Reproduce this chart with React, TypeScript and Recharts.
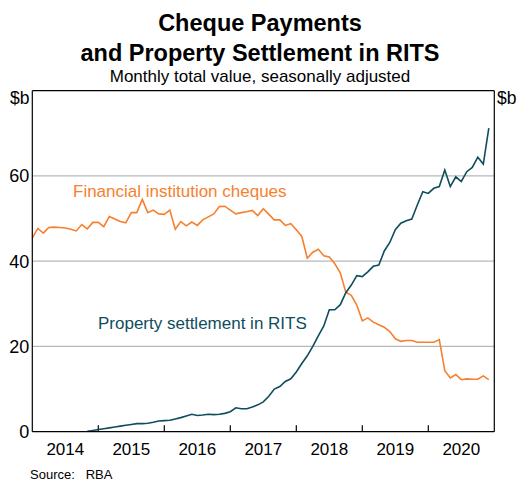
import React from "react";
import {
  LineChart,
  Line,
  XAxis,
  YAxis,
  ReferenceLine,
} from "recharts";

// monthly, Jan 2014 .. Dec 2020 ($b)
const chequeValues = [
  45.4, 47.7, 46.6, 47.9, 48.0, 47.9, 47.8, 47.5, 47.1, 48.6, 47.6, 49.1,
  49.1, 48.1, 50.5, 49.9, 49.3, 49.0, 51.4, 51.4, 54.5, 51.4, 52.0, 51.1,
  51.0, 52.0, 47.5, 49.3, 48.3, 49.2, 48.4, 49.7, 50.4, 51.1, 52.8, 52.9,
  52.0, 51.1, 51.4, 51.6, 51.9, 50.7, 52.3, 51.0, 49.7, 49.7, 48.4, 48.8,
  47.4, 45.8, 40.7, 42.1, 42.8, 41.3, 41.0, 39.4, 37.3, 32.7, 32.0, 29.7,
  26.0, 26.7, 25.7, 25.1, 24.5, 23.5, 21.8, 21.2, 21.4, 21.4, 21.0, 21.0,
  21.0, 21.0, 21.6, 14.3, 12.6, 13.4, 12.2, 12.4, 12.3, 12.3, 13.1, 12.2,
];

const propertyValues: (number | null)[] = [
  null, null, null, null, null, null, null, null, null, null, 0.1, 0.3,
  0.5, 0.7, 0.9, 1.1, 1.3, 1.5, 1.7, 1.9, 1.9, 2.0, 2.2, 2.5,
  2.6, 2.7, 3.0, 3.3, 3.7, 4.1, 3.8, 3.9, 4.1, 4.0, 4.1, 4.3,
  4.7, 5.6, 5.4, 5.4, 5.8, 6.3, 7.0, 8.3, 10.0, 10.6, 11.8, 12.4,
  14.0, 16.0, 17.8, 20.0, 22.5, 24.8, 28.6, 28.6, 29.8, 32.6, 34.4, 36.6,
  36.4, 37.5, 38.8, 39.1, 42.4, 44.4, 47.4, 48.9, 49.5, 49.9, 53.2, 56.3,
  55.9, 57.1, 57.5, 61.4, 57.5, 59.8, 58.7, 61.0, 62.0, 64.4, 62.8, 71.2,
];

const years = ["2014", "2015", "2016", "2017", "2018", "2019", "2020"];
const yTicks = [0, 20, 40, 60, 80];
const gridValues = [20, 40, 60];

const ORANGE = "#f7802e";
const TEAL = "#0f4d5c";
const FONT = "Arial, 'Liberation Sans', sans-serif";

const data = chequeValues.map((v, i) => ({
  m: i,
  cheques: v,
  property: propertyValues[i],
}));

const yearMids = years.map((_, k) => k * 12 + 6);
const yearBounds = years.slice(1).map((_, k) => (k + 1) * 12);

const yTickFmt = (v: number) => (v === 80 ? "" : String(v));
const xTickFmt = (v: number) => years[Math.floor(v / 12)] ?? "";

export default function App() {
  return (
    <div
      style={{
        position: "absolute",
        left: 0,
        top: 0,
        width: 520,
        height: 481,
        background: "#fff",
        fontFamily: FONT,
        color: "#000",
      }}
    >
      <div style={{ position: "absolute", left: 0, width: 520, top: 9.4, textAlign: "center", fontSize: 23.5, fontWeight: "bold", lineHeight: "29.5px" }}>
        Cheque Payments
        <br />
        and Property Settlement in RITS
      </div>
      <div style={{ position: "absolute", left: 0, width: 520, top: 67.4, textAlign: "center", fontSize: 17, lineHeight: "20px" }}>
        Monthly total value, seasonally adjusted
      </div>
      <div style={{ position: "absolute", left: 10, top: 88, fontSize: 17.5, lineHeight: "20px" }}>$b</div>
      <div style={{ position: "absolute", left: 497, top: 88, fontSize: 17.5, lineHeight: "20px" }}>$b</div>
      <div style={{ position: "absolute", left: 73, top: 182, fontSize: 17, lineHeight: "20px", color: ORANGE }}>
        Financial institution cheques
      </div>
      <div style={{ position: "absolute", left: 98, top: 314, fontSize: 17, lineHeight: "20px", color: TEAL }}>
        Property settlement in RITS
      </div>
      <div style={{ position: "absolute", left: 30, top: 467, fontSize: 13, lineHeight: "15px" }}>
        Source:&nbsp;&nbsp;&nbsp;RBA
      </div>

      <LineChart
        width={520}
        height={481}
        data={data}
        margin={{ top: 90.7, right: 0, bottom: 0, left: 0 }}
        style={{ position: "absolute", left: 0, top: 0 }}
      >
        <XAxis
          dataKey="m"
          type="number"
          domain={[0, 84]}
          ticks={yearMids}
          tickFormatter={xTickFmt}
          interval={0}
          tickLine={false}
          tickSize={0}
          tickMargin={11}
          axisLine={{ stroke: "#000", strokeWidth: 1.2 }}
          height={49.3}
          tick={{ fill: "#000", fontSize: 17, fontFamily: FONT }}
        />
        <YAxis
          yAxisId="l"
          orientation="left"
          domain={[0, 80]}
          ticks={yTicks}
          tickFormatter={yTickFmt}
          interval={0}
          tickLine={false}
          tickSize={0}
          tickMargin={3}
          width={32.3}
          axisLine={{ stroke: "#000", strokeWidth: 1.2 }}
          tick={{ fill: "#000", fontSize: 18, fontFamily: FONT }}
        />
        <YAxis
          yAxisId="r"
          orientation="right"
          domain={[0, 80]}
          ticks={yTicks}
          tickFormatter={yTickFmt}
          interval={0}
          tickLine={false}
          tickSize={0}
          tickMargin={3}
          width={25.7}
          axisLine={{ stroke: "#000", strokeWidth: 1.2 }}
          tick={{ fill: "#000", fontSize: 18, fontFamily: FONT, textAnchor: "start" }}
        />
        {gridValues.map((g) => (
          <ReferenceLine key={g} yAxisId="l" y={g} stroke="#b8b8b8" strokeWidth={1.2} />
        ))}
        <ReferenceLine yAxisId="l" y={80} stroke="#000" strokeWidth={1.2} />
        {yearBounds.map((b) => (
          <ReferenceLine
            key={b}
            yAxisId="l"
            segment={[
              { x: b, y: 0 },
              { x: b, y: 1.5 },
            ]}
            stroke="#000"
            strokeWidth={1.2}
          />
        ))}
        <Line
          yAxisId="l"
          dataKey="cheques"
          stroke={ORANGE}
          strokeWidth={1.6}
          dot={false}
          type="linear"
          isAnimationActive={false}
        />
        <Line
          yAxisId="l"
          dataKey="property"
          stroke={TEAL}
          strokeWidth={1.6}
          dot={false}
          type="linear"
          connectNulls={false}
          isAnimationActive={false}
        />
      </LineChart>
    </div>
  );
}
